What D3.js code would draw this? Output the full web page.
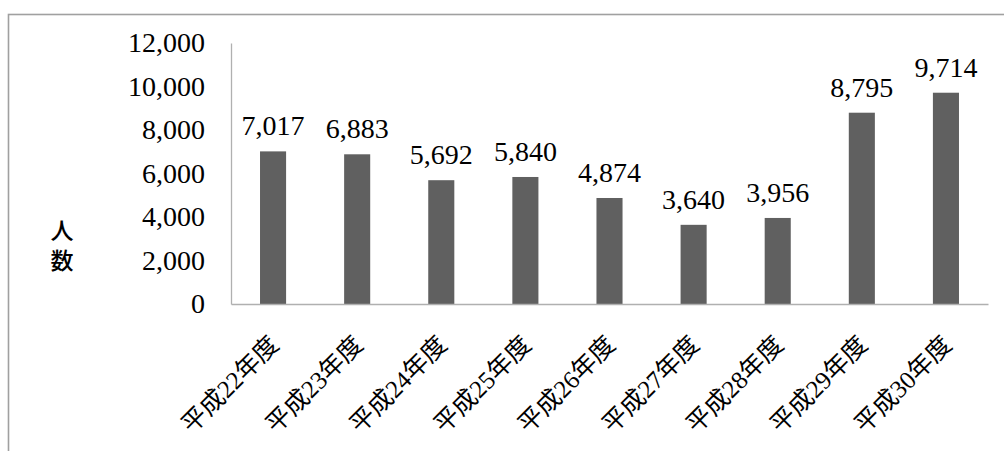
<!DOCTYPE html>
<html>
<head>
<meta charset="utf-8">
<script src="https://cdn.jsdelivr.net/npm/d3@7"></script>
<style>
    body { margin: 0; background: #fff; }
    svg { display: block; }
</style>
</head>
<body>
<script>
// Data
const years = ["平成22年度", "平成23年度", "平成24年度", "平成25年度", "平成26年度",
               "平成27年度", "平成28年度", "平成29年度", "平成30年度"];
const counts = [7017, 6883, 5692, 5840, 4874, 3640, 3956, 8795, 9714];
const yTicks = [0, 2000, 4000, 6000, 8000, 10000, 12000];
const yTitle = "人数";

const width = 1004;
const height = 451;
const numFont = "'Liberation Serif', 'Times New Roman', serif";
const catFont = "'Liberation Serif', 'Noto Sans CJK JP', serif";

const svg = d3.select("body").append("svg")
    .attr("width", width)
    .attr("height", height);

// Outer frame (runs past the right/bottom edges)
svg.append("rect")
    .attr("x", 8.5).attr("y", 14.5)
    .attr("width", 1100).attr("height", 1000)
    .attr("fill", "none")
    .attr("stroke", "#a0a0a0")
    .attr("stroke-width", 1.6);

const x = d3.scaleBand()
    .domain(years)
    .range([231, 988])
    .paddingInner(0.69)
    .paddingOuter(0.345);

const y = d3.scaleLinear()
    .domain([0, 12000])
    .range([304, 43]);

// Y axis
const yAxis = svg.append("g")
    .attr("transform", "translate(231,0)")
    .call(d3.axisLeft(y).tickValues(yTicks).tickFormat(d3.format(",")).tickSize(0).tickPadding(26));
yAxis.select(".domain").attr("stroke", "#b0b0b0").attr("stroke-width", 1.3);
yAxis.selectAll("text")
    .attr("font-family", numFont)
    .attr("font-size", 28)
    .attr("fill", "#000");

// Bars
svg.append("g").selectAll("rect")
    .data(counts)
    .join("rect")
    .attr("x", (d, i) => x(years[i]))
    .attr("y", d => y(d))
    .attr("width", x.bandwidth())
    .attr("height", d => y(0) - y(d))
    .attr("fill", "#606060");

// X axis
const xAxis = svg.append("g")
    .attr("transform", "translate(0,304)")
    .call(d3.axisBottom(x).tickSize(0).tickSizeOuter(0));
xAxis.select(".domain").attr("stroke", "#b0b0b0").attr("stroke-width", 1.3);
xAxis.selectAll("text")
    .attr("font-family", catFont)
    .attr("font-size", 25)
    .attr("fill", "#000")
    .attr("text-anchor", "end")
    .attr("y", 0)
    .attr("dy", "0.35em")
    .attr("transform", "translate(1,36) rotate(-45)");

// Value labels
svg.append("g").selectAll("text")
    .data(counts)
    .join("text")
    .attr("x", (d, i) => x(years[i]) + x.bandwidth() / 2)
    .attr("y", d => y(d) - 16)
    .attr("text-anchor", "middle")
    .attr("font-family", numFont)
    .attr("font-size", 28)
    .text(d => d3.format(",")(d));

// Y title, written vertically
svg.append("text")
    .attr("x", 62)
    .attr("y", 219)
    .attr("writing-mode", "vertical-rl")
    .attr("text-anchor", "start")
    .attr("letter-spacing", 7)
    .attr("font-family", "'Noto Sans CJK JP', sans-serif")
    .attr("font-size", 23)
    .attr("font-weight", 500)
    .text(yTitle);
</script>
</body>
</html>
